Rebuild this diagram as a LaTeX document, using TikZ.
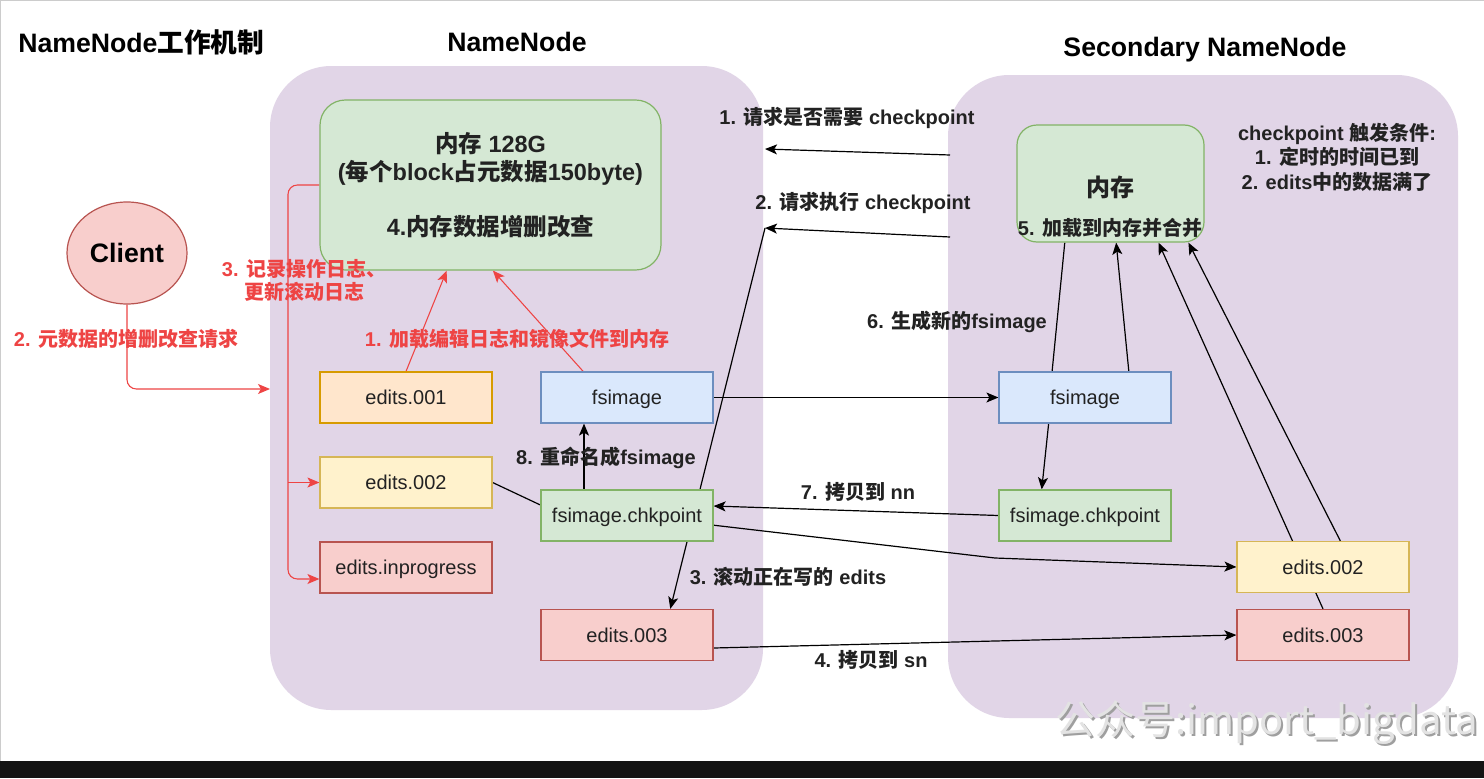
\documentclass[tikz,border=0pt]{standalone}
\usepackage{fontspec}
\setmainfont{Liberation Sans}
\newfontfamily\cjk{Noto Sans CJK SC}
\usetikzlibrary{arrows.meta,calc,shapes.geometric}
\pgfdeclarelayer{bg}\pgfdeclarelayer{edges}
\pgfsetlayers{bg,edges,main}
\newcommand\z[1]{{\cjk #1}}
\definecolor{purp}{HTML}{E1D5E7}
\definecolor{grf}{HTML}{D5E8D4}\definecolor{grd}{HTML}{82B366}
\definecolor{orf}{HTML}{FFE6CC}\definecolor{ord}{HTML}{D79B00}
\definecolor{yef}{HTML}{FFF2CC}\definecolor{yed}{HTML}{D6B656}
\definecolor{ref}{HTML}{F8CECC}\definecolor{red}{HTML}{B85450}
\definecolor{blf}{HTML}{DAE8FC}\definecolor{bld}{HTML}{6C8EBF}
\definecolor{redl}{HTML}{EE4444}
\definecolor{txt}{HTML}{222222}
\definecolor{barc}{HTML}{141414}
\tikzset{
  container/.style={fill=purp, rounded corners=46pt, inner sep=0pt},
  box/.style={draw, line width=0.9pt, minimum width=129pt, minimum height=38.25pt, inner sep=0pt,
              text height=10.7pt, text depth=0pt, text=txt, font=\fontsize{15}{18}\selectfont},
  orbox/.style={box, fill=orf, draw=ord},
  yebox/.style={box, fill=yef, draw=yed},
  rebox/.style={box, fill=ref, draw=red},
  blbox/.style={box, fill=blf, draw=bld},
  grbox/.style={box, fill=grf, draw=grd},
  mem/.style={draw=grd, fill=grf, line width=0.9pt, inner sep=0pt},
  lbl/.style={inner sep=0pt, text=txt, font=\fontsize{15}{18}\selectfont\bfseries},
  redlbl/.style={lbl, text=redl},
  ttl/.style={inner sep=0pt, text=black, font=\fontsize{20}{24}\selectfont\bfseries},
  arr/.style={-{Stealth[length=9pt,width=7.5pt,inset=2.2pt]}, line width=0.9pt, draw=black},
  redarr/.style={arr, draw=redl, line width=0.8pt},
}
\begin{document}
\begin{tikzpicture}[x=0.75pt, y=-0.75pt]
\useasboundingbox (0,0) rectangle (1484,778);
\begin{pgfonlayer}{bg}
  \fill[white] (0,0) rectangle (1484,778);
  \draw[gray!40, line width=0.8pt] (0.5,778) -- (0.5,0.5) -- (1484,0.5);
  \fill[barc] (0,761) rectangle (1484,778);
  \node[container, minimum width=369.75pt, minimum height=483pt] (nn) at (516.5,388) {};
  \node[container, minimum width=382.5pt, minimum height=482.25pt] (sn) at (1203,396.5) {};
\end{pgfonlayer}

% titles
\node[ttl, anchor=west] (title) at (18,42) {NameNode\z{工作机制}};
\node[ttl] (nntitle) at (517,42) {NameNode};
\node[ttl] (sntitle) at (1205,50) {Secondary NameNode};

% memory boxes
\node[mem, rounded corners=19pt, minimum width=255.75pt, minimum height=127.5pt, align=center, text=txt,
      font=\fontsize{17.6}{21}\selectfont\bfseries] (memNN) at (490.5,185)
  {\z{内存} 128G\\(\z{每个}block\z{占元数据}150byte)\\[20.25pt]4.\z{内存数据增删改查}};
\node[mem, rounded corners=15pt, minimum width=140.25pt, minimum height=87.75pt] (memSN) at (1110.5,183.5) {};
\node[lbl, font=\fontsize{18}{20}\selectfont\bfseries] (memSNt) at (1110,187) {\z{内存}};
\node[lbl] (mergeLbl) at (1110,228) {5. \z{加载到内存并合并}};

% client
\node[ellipse, draw=red, fill=ref, line width=0.9pt, minimum width=90pt, minimum height=76.5pt,
      font=\fontsize{20}{24}\selectfont\bfseries, text=black] (client) at (127,253) {Client};

% NameNode boxes
\node[orbox] (e001) at (406,397.5) {edits.001};
\node[yebox] (e002NN) at (406,482.5) {edits.002};
\node[rebox] (einp) at (406,567.5) {edits.inprogress};
\node[blbox] (fsNN) at (627,397.5) {fsimage};
\node[grbox] (chkNN) at (627,515.5) {fsimage.chkpoint};
\node[rebox] (e003NN) at (627,635) {edits.003};

% Secondary boxes
\node[blbox] (fsSN) at (1085,397.5) {fsimage};
\node[grbox] (chkSN) at (1085,515.5) {fsimage.chkpoint};
\node[yebox] (e002SN) at (1323,567) {edits.002};
\node[rebox] (e003SN) at (1323,635) {edits.003};

% labels
\node[lbl] (l1) at (847,118) {1. \z{请求是否需要} checkpoint};
\node[lbl] (l2) at (863,203) {2. \z{请求执行} checkpoint};
\node[lbl, align=center, font=\fontsize{15}{18.4}\selectfont\bfseries] (cond) at (1337,157)
  {checkpoint \z{触发条件}:\\1. \z{定时的时间已到}\\2. edits\z{中的数据满了}};
\node[lbl] (l6) at (957,322) {6. \z{生成新的}fsimage};
\node[lbl] (l8) at (606,458) {8. \z{重命名成}fsimage};
\node[lbl] (l7) at (858,492) {7. \z{拷贝到} nn};
\node[lbl] (l3) at (788,577) {3. \z{滚动正在写的} edits};
\node[lbl] (l4) at (871,660) {4. \z{拷贝到} sn};
\node[redlbl, align=center, font=\fontsize{15}{17.25}\selectfont\bfseries] (r3) at (304,280)
  {3. \z{记录操作日志、}\\\z{更新滚动日志}};
\node[redlbl] (r2) at (126,339) {2. \z{元数据的增删改查请求}};
\node[redlbl] (r1) at (517,339) {1. \z{加载编辑日志和镜像文件到内存}};

% watermark
\node[anchor=east, inner sep=0pt, text=gray!75, font=\cjk\fontsize{30}{32}\selectfont] (wmS) at (1480,725) {公众号:import\_bigdata};
\node[anchor=east, inner sep=0pt, text=gray!22, font=\cjk\fontsize{30}{32}\selectfont] (wm) at (1478,723) {公众号:import\_bigdata};

% connectors
\coordinate (q1s) at (950,155);
\coordinate (q1e) at (765,149);
\coordinate (q2s) at (950,237);
\coordinate (q2e) at (765,228);
\coordinate (clin) at (270,389);
\begin{pgfonlayer}{edges}
  \draw[arr] (q1s) -- (q1e);
  \draw[arr] (q2s) -- (q2e);
  \draw[arr] (q2e) -- ($(e003NN.north west)!0.75!(e003NN.north east)$);
  \draw[arr] (fsNN.east) -- (fsSN.west);
  \draw[arr] ($(fsSN.south west)!0.29!(fsSN.south east)$) -- ($(chkSN.north west)!0.25!(chkSN.north east)$);
  \draw[arr] (chkSN.west) -- ($(chkNN.east)+(0,-9.5)$);
  \draw[arr] (e002NN.east) -- ($(chkNN.west)+(0,-10.5)$) -- (995,558) -- (e002SN.west);
  \draw[arr] ($(e003NN.east)+(0,13)$) -- (e003SN.west);
  \draw[line width=0.9pt] ($(memSN.south west)!0.257!(memSN.south east)$) -- ($(fsSN.north west)!0.31!(fsSN.north east)$);
  \draw[arr] ($(fsSN.north west)!0.753!(fsSN.north east)$) -- ($(memSN.south west)!0.53!(memSN.south east)$);
  \draw[arr] ($(e003SN.north west)!0.5!(e003SN.north east)$) -- ($(memSN.south west)!0.755!(memSN.south east)$);
  \draw[arr] ($(e002SN.north west)!0.6!(e002SN.north east)$) -- ($(memSN.south west)!0.914!(memSN.south east)$);
  \draw[arr] ($(chkNN.north)+(-43,0)$) -- ($(fsNN.south)+(-43,0)$);
  % red
  \draw[redarr] (e001.north) -- ($(memNN.south west)!0.372!(memNN.south east)$);
  \draw[redarr] ($(fsNN.north west)!0.247!(fsNN.north east)$) -- ($(memNN.south west)!0.507!(memNN.south east)$);
  \draw[redarr, rounded corners=7pt] (client.south) |- (clin);
  \draw[redarr, rounded corners=7pt] (memNN.west) -- (288,185) -- (288,579) -- ($(einp.west)+(0,11.5)$);
  \draw[redarr] (288,482.5) -- (e002NN.west);
\end{pgfonlayer}
\end{tikzpicture}
\end{document}
